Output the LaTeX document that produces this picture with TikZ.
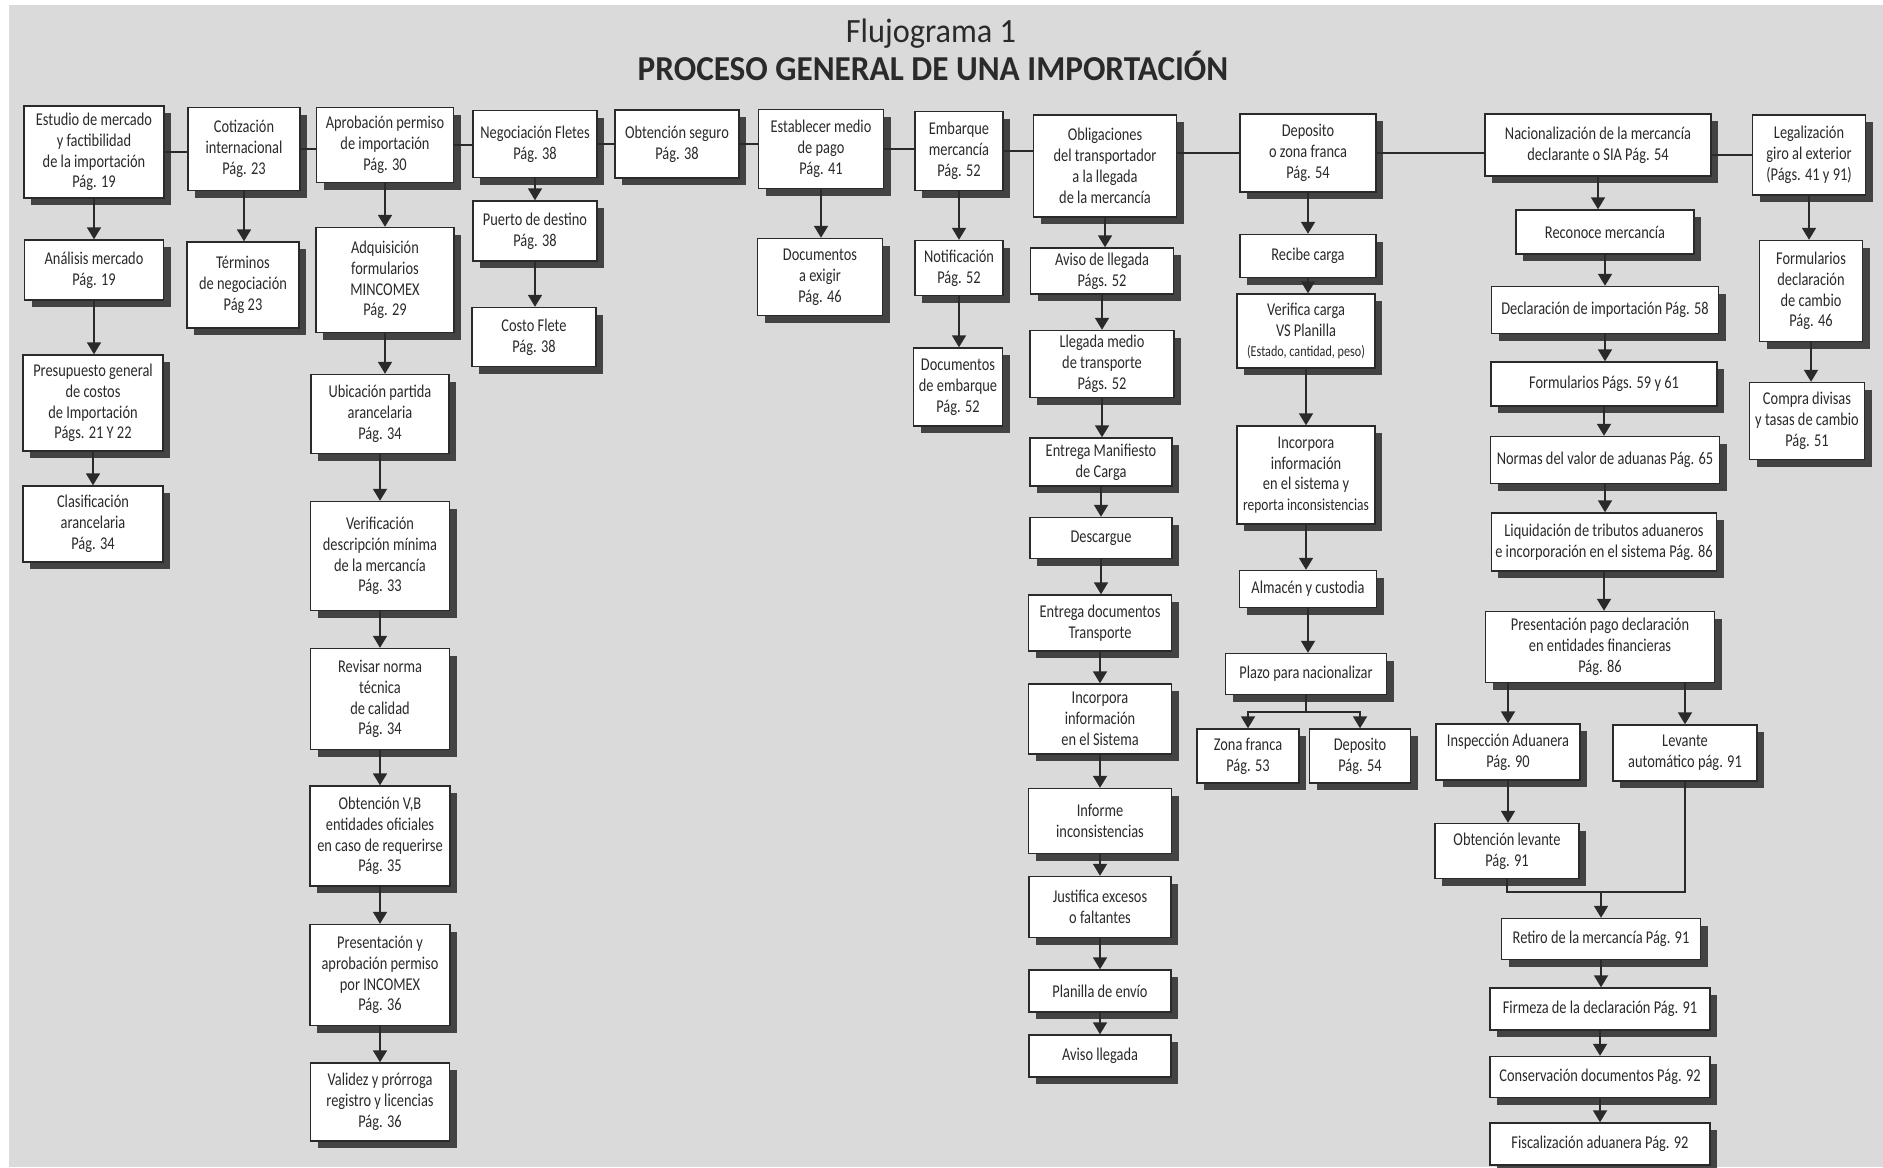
\documentclass[tikz,border=0pt]{standalone}
\usepackage{fontspec}
\setmainfont{Carlito}[FakeStretch=0.8]
\newfontfamily\headfont{Carlito}[FakeStretch=0.95]
\usetikzlibrary{arrows.meta,positioning,calc,shadows}
\definecolor{paper}{RGB}{218,218,218}
\definecolor{ink}{RGB}{42,42,42}
\tikzset{
  box/.style={draw=ink, fill=white, line width=0.7pt, align=center, inner sep=2pt, text=ink,
    font=\fontsize{9}{10.4}\selectfont,
    drop shadow={shadow xshift=3.5pt, shadow yshift=-3.5pt, fill=black!80, opacity=0.9}},
  sz/.style 2 args={minimum width=#1*0.5pt, minimum height=#2*0.5pt},
  arrow/.style={-{Triangle[length=6pt,width=7pt]}, line width=0.9pt, draw=ink},
  link/.style={line width=0.9pt, draw=ink}
}

\begin{document}
\begin{tikzpicture}[x=0.5pt, y=-0.5pt]
\useasboundingbox (0,0) rectangle (1883,1167);
\fill[white] (0,0) rectangle (1883,1167);
\fill[paper] (9,5) rectangle (1883,1167);

% title
\node[text=ink, font=\headfont\fontsize{17}{20}\selectfont] (fig) at (931,34) {Flujograma 1};
\node[text=ink, font=\headfont\bfseries\fontsize{17.5}{21}\selectfont] (title) at (933,66) {PROCESO GENERAL DE UNA IMPORTACIÓN};

% market / quotation
\node[box, sz={140}{92}] (A1) at (94,152) {Estudio de mercado\\y factibilidad\\de la importación\\Pág. 19};
\node[box, sz={139}{60}] (A2) at (94,270) {Análisis mercado\\Pág. 19};
\node[box, sz={140}{96}] (A3) at (93,403) {Presupuesto general\\de costos\\de Importación\\Págs. 21 Y 22};
\node[box, sz={140}{76}] (A4) at (93,524) {Clasificación\\arancelaria\\Pág. 34};
\node[box, sz={112}{83}] (B1) at (244,149) {Cotización\\internacional\\Pág. 23};
\node[box, sz={112}{86}] (B2) at (243,285) {Términos\\de negociación\\Pág 23};

% permit
\node[box, sz={137}{75}] (C1) at (385,145) {Aprobación permiso\\de importación\\Pág. 30};
\node[box, sz={138}{105}] (C2) at (385,280) {Adquisición\\formularios\\MINCOMEX\\Pág. 29};
\node[box, sz={138}{79}] (C3) at (380,414) {Ubicación partida\\arancelaria\\Pág. 34};
\node[box, sz={139}{109}] (C4) at (380,556) {Verificación\\descripción mínima\\de la mercancía\\Pág. 33};
\node[box, sz={139}{101}] (C5) at (380,699) {Revisar norma\\técnica\\de calidad\\Pág. 34};
\node[box, sz={140}{100}] (C6) at (380,836) {Obtención V,B\\entidades oficiales\\en caso de requerirse\\Pág. 35};
\node[box, sz={140}{101}] (C7) at (380,975) {Presentación y\\aprobación permiso\\por INCOMEX\\Pág. 36};
\node[box, sz={139}{78}] (C8) at (380,1102) {Validez y prórroga\\registro y licencias\\Pág. 36};

% freight, insurance, payment, shipping
\node[box, sz={124}{67}] (D1) at (535,144) {Negociación Fletes\\Pág. 38};
\node[box, sz={124}{60}] (D2) at (535,231) {Puerto de destino\\Pág. 38};
\node[box, sz={124}{59}] (D3) at (534,337) {Costo Flete\\Pág. 38};
\node[box, sz={124}{68}] (E1) at (677,144) {Obtención seguro\\Pág. 38};
\node[box, sz={125}{79}] (F1) at (821,149) {Establecer medio\\de pago\\Pág. 41};
\node[box, sz={125}{77}] (F2) at (820,277) {Documentos\\a exigir\\Pág. 46};
\node[box, sz={88}{79}] (G1) at (959,151) {Embarque\\mercancía\\Pág. 52};
\node[box, sz={88}{55}] (G2) at (959,268) {Notificación\\Pág. 52};
\node[box, sz={89}{78}] (G3) at (958,387) {Documentos\\de embarque\\Pág. 52};

% carrier
\node[box, sz={143}{102}] (H1) at (1105,166) {Obligaciones\\del transportador\\a la llegada\\de la mercancía};
\node[box, sz={143}{46}] (H2) at (1102,271) {Aviso de llegada\\Págs. 52};
\node[box, sz={144}{67}] (H3) at (1102,364) {Llegada medio\\de transporte\\Págs. 52};
\node[box, sz={142}{48}] (H4) at (1101,462) {Entrega Manifiesto\\de Carga};
\node[box, sz={142}{41}] (H5) at (1101,538) {Descargue};
\node[box, sz={143}{56}] (H6) at (1100,623) {Entrega documentos\\Transporte};
\node[box, sz={143}{70}] (H7) at (1100,719) {Incorpora\\información\\en el Sistema};
\node[box, sz={143}{65}] (H8) at (1100,821) {Informe\\inconsistencias};
\node[box, sz={142}{61}] (H9) at (1100,907) {Justifica excesos\\o faltantes};
\node[box, sz={142}{42}] (H10) at (1100,991) {Planilla de envío};
\node[box, sz={142}{42}] (H11) at (1100,1056) {Aviso llegada};

% deposit
\node[box, sz={136}{78}] (I1) at (1308,153) {Deposito\\o zona franca\\Pág. 54};
\node[box, sz={136}{43}] (I2) at (1308,256) {Recibe carga};
\node[box, sz={138}{74}] (I3) at (1306,331) {Verifica carga\\VS Planilla\\{\fontsize{7.6}{9}\selectfont(Estado, cantidad, peso)}};
\node[box, sz={138}{98}] (I4) at (1306,475) {Incorpora\\información\\en el sistema y\\{\fontsize{8.4}{10}\selectfont reporta inconsistencias}};
\node[box, sz={137}{37}] (I5) at (1308,589) {Almacén y custodia};
\node[box, sz={161}{41}] (I6) at (1306,674) {Plazo para nacionalizar};
\node[box, sz={102}{54}] (I7) at (1248,756) {Zona franca\\Pág. 53};
\node[box, sz={101}{54}] (I8) at (1360,756) {Deposito\\Pág. 54};

% nationalization
\node[box, sz={226}{62}] (J1) at (1598,145) {Nacionalización de la mercancía\\declarante o SIA Pág. 54};
\node[box, sz={178}{44}] (J2) at (1605,232) {Reconoce mercancía};
\node[box, sz={227}{47}] (J3) at (1605,310) {Declaración de importación Pág. 58};
\node[box, sz={226}{44}] (J4) at (1604,384) {Formularios Págs. 59 y 61};
\node[box, sz={229}{47}] (J5) at (1605,460) {Normas del valor de aduanas Pág. 65};
\node[box, sz={225}{58}] (J6) at (1604,542) {Liquidación de tributos aduaneros\\e incorporación en el sistema Pág. 86};
\node[box, sz={229}{71}] (J7) at (1600,647) {Presentación pago declaración\\en entidades financieras\\Pág. 86};
\node[box, sz={144}{56}] (J8) at (1508,752) {Inspección Aduanera\\Pág. 90};
\node[box, sz={144}{56}] (J9) at (1685,753) {Levante\\automático pág. 91};
\node[box, sz={144}{55}] (J10) at (1507,851) {Obtención levante\\Pág. 91};
\node[box, sz={199}{41}] (J11) at (1601,939) {Retiro de la mercancía Pág. 91};
\node[box, sz={220}{42}] (J12) at (1600,1009) {Firmeza de la declaración Pág. 91};
\node[box, sz={220}{41}] (J13) at (1600,1077) {Conservación documentos Pág. 92};
\node[box, sz={220}{42}] (J14) at (1600,1144) {Fiscalización aduanera Pág. 92};

% foreign exchange
\node[box, sz={113}{80}] (K1) at (1809,155) {Legalización\\giro al exterior\\(Págs. 41 y 91)};
\node[box, sz={103}{101}] (K2) at (1811,291) {Formularios\\declaración\\de cambio\\Pág. 46};
\node[box, sz={115}{77}] (K3) at (1807,421) {Compra divisas\\y tasas de cambio\\Pág. 51};

% main line
\draw[link] (A1.east) -- (A1.east -| B1.west);
\draw[link] (B1.east) -- (B1.east -| C1.west);
\draw[link] (C1.east) -- (C1.east -| D1.west);
\draw[link] (D1.east) -- (D1.east -| E1.west);
\draw[link] (E1.east) -- (E1.east -| F1.west);
\draw[link] (F1.east) -- (F1.east -| G1.west);
\draw[link] (G1.east) -- (G1.east -| H1.west);
\draw[link] (I1.west) -- (I1.west -| H1.east);
\draw[link] (I1.east) -- (I1.east -| J1.west);
\draw[link] (K1.west) -- (K1.west -| J1.east);

% columns
\draw[arrow] (A1) -- (A1 |- A2.north);
\draw[arrow] (A2) -- (A2 |- A3.north);
\draw[arrow] (A3) -- (A3 |- A4.north);
\draw[arrow] (B1) -- (B1 |- B2.north);
\draw[arrow] (C1) -- (C1 |- C2.north);
\draw[arrow] (C2) -- (C2 |- C3.north);
\draw[arrow] (C3) -- (C3 |- C4.north);
\draw[arrow] (C4) -- (C4 |- C5.north);
\draw[arrow] (C5) -- (C5 |- C6.north);
\draw[arrow] (C6) -- (C6 |- C7.north);
\draw[arrow] (C7) -- (C7 |- C8.north);
\draw[arrow] (D1) -- (D1 |- D2.north);
\draw[arrow] (D2) -- (D2 |- D3.north);
\draw[arrow] (F1) -- (F1 |- F2.north);
\draw[arrow] (G1) -- (G1 |- G2.north);
\draw[arrow] (G2) -- (G2 |- G3.north);
\draw[arrow] (H1) -- (H1 |- H2.north);
\draw[arrow] (H2) -- (H2 |- H3.north);
\draw[arrow] (H3) -- (H3 |- H4.north);
\draw[arrow] (H4) -- (H4 |- H5.north);
\draw[arrow] (H5) -- (H5 |- H6.north);
\draw[arrow] (H6) -- (H6 |- H7.north);
\draw[arrow] (H7) -- (H7 |- H8.north);
\draw[arrow] (H8) -- (H8 |- H9.north);
\draw[arrow] (H9) -- (H9 |- H10.north);
\draw[arrow] (H10) -- (H10 |- H11.north);
\draw[arrow] (I1) -- (I1 |- I2.north);
\draw[arrow] (I2) -- (I2 |- I3.north);
\draw[arrow] (I3) -- (I3 |- I4.north);
\draw[arrow] (I4) -- (I4 |- I5.north);
\draw[arrow] (I5) -- (I5 |- I6.north);
\coordinate (pz) at ($(I6.south)+(0,17)$);
\draw[link] (I6) -- (pz);
\draw[arrow] (pz) -| (I7);
\draw[arrow] (pz) -| (I8);
\draw[arrow] (J1) -- (J1 |- J2.north);
\draw[arrow] (J2) -- (J2 |- J3.north);
\draw[arrow] (J3) -- (J3 |- J4.north);
\draw[arrow] (J4) -- (J4 |- J5.north);
\draw[arrow] (J5) -- (J5 |- J6.north);
\draw[arrow] (J6) -- (J6 |- J7.north);
\draw[arrow] (J8 |- J7.south) -- (J8);
\draw[arrow] (J9 |- J7.south) -- (J9);
\draw[arrow] (J8) -- (J8 |- J10.north);
\coordinate (mg) at ($(J11.north)+(0,-26)$);
\draw[link] (J10) |- (mg);
\draw[link] (J9) |- (mg);
\draw[arrow] (mg) -- (J11);
\draw[arrow] (J11) -- (J11 |- J12.north);
\draw[arrow] (J12) -- (J12 |- J13.north);
\draw[arrow] (J13) -- (J13 |- J14.north);
\draw[arrow] (K1) -- (K1 |- K2.north);
\draw[arrow] (K2) -- (K2 |- K3.north);
\end{tikzpicture}
\end{document}
